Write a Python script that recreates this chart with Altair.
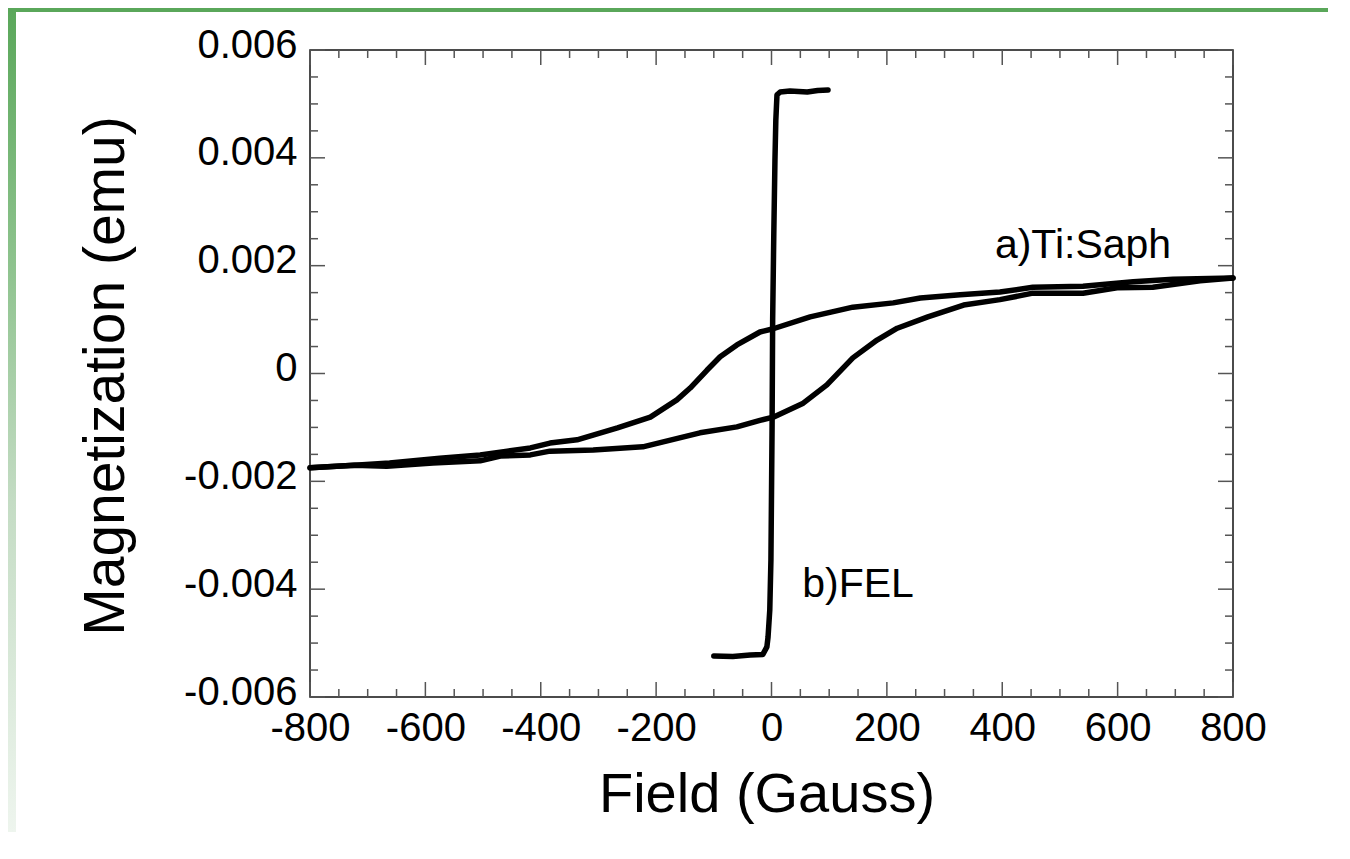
import altair as alt
import pandas as pd

# ---------------- data ----------------
# a) Ti:Saph loop, upper branch (field swept down)
up_field = [-800, -723, -662, -575, -505, -458, -418, -384, -337, -267, -210, -164, -141,
            -112, -89, -60, -20, 3, 67, 141, 211, 258, 327, 396, 453, 540, 627, 696, 800]
up_mag = [-0.00175, -0.00170, -0.00166, -0.00157, -0.00151, -0.00144, -0.00138, -0.00129,
          -0.00123, -0.00101, -0.00081, -0.00049, -0.00027, 0.00006, 0.00031, 0.00053,
          0.00077, 0.00083, 0.00105, 0.00123, 0.00131, 0.00140, 0.00146, 0.00151,
          0.00160, 0.00162, 0.00170, 0.00175, 0.00177]

# a) Ti:Saph loop, lower branch (field swept up)
low_field = [-800, -723, -667, -587, -505, -470, -418, -384, -309, -223, -124, -60, -20, 3,
             55, 96, 141, 183, 218, 271, 333, 396, 453, 540, 599, 661, 743, 800]
low_mag = [-0.00175, -0.00170, -0.00172, -0.00166, -0.00162, -0.00153, -0.00151, -0.00144,
           -0.00142, -0.00136, -0.00110, -0.00099, -0.00087, -0.00081, -0.00055, -0.00021,
           0.00029, 0.00062, 0.00084, 0.00105, 0.00127, 0.00137, 0.00149, 0.00149,
           0.00159, 0.00160, 0.00172, 0.00177]

# b) FEL loop
fel_field = [-100, -67, -37, -15, -8, -6, -3, -1, 1, 2, 4, 6, 7.5, 9.5, 15, 32, 62, 80, 98]
fel_mag = [-0.00524, -0.00525, -0.00522, -0.00521, -0.00507, -0.00489, -0.00439, -0.00346,
           -0.00100, 0.00100, 0.00260, 0.00396, 0.00470, 0.00517, 0.00522, 0.00524,
           0.00522, 0.00525, 0.00526]

# annotations
note_text = ["a)Ti:Saph", "b)FEL"]
note_field = [540, 150]
note_mag = [0.00214, -0.00415]

# axis ticks
x_major = [-800, -600, -400, -200, 0, 200, 400, 600, 800]
x_minor = [v for v in range(-750, 800, 50) if v % 200 != 0]
y_major = [-0.006, -0.004, -0.002, 0.0, 0.002, 0.004, 0.006]
y_minor = [round(-0.0055 + 0.0005 * i, 4) for i in range(23) if (i + 1) % 4 != 0]

# ---------------- build tables ----------------
rows = []
for name, xs_, ys_ in [("up", up_field, up_mag), ("low", low_field, low_mag), ("fel", fel_field, fel_mag)]:
    for i, (a, b) in enumerate(zip(xs_, ys_)):
        rows.append({"field": a, "mag": b, "series": name, "order": i})
df = pd.DataFrame(rows)
notes = pd.DataFrame({"label": note_text, "field": note_field, "mag": note_mag})

W, H = 923, 647
PL, PT, PR, PB = 302, 42, 95, 135
FONT = "Liberation Sans"

xs = alt.Scale(domain=[-800, 800], nice=False, zero=False)
ys = alt.Scale(domain=[-0.006, 0.006], nice=False, zero=False)

x_axis = alt.Axis(values=x_major, ticks=False, tickSize=0, domain=False, grid=False,
                  labelFont=FONT, labelFontSize=40, labelColor="black", labelPadding=11,
                  labelFlush=False, labelOverlap=False,
                  labelExpr="(datum.value < 0 ? '-' : '') + format(abs(datum.value), 'd')",
                  title="Field (Gauss)", titleFont=FONT, titleFontSize=56,
                  titleFontWeight="normal", titleColor="black",
                  titleX=W / 2 - 5, titleY=114, titleAlign="center", titleBaseline="alphabetic")
y_axis = alt.Axis(values=y_major, ticks=False, tickSize=0, domain=False, grid=False,
                  labelFont=FONT, labelFontSize=40, labelColor="black", labelPadding=13,
                  labelOffset=-5,
                  labelFlush=False, labelOverlap=False,
                  labelExpr="datum.value == 0 ? '0' : (datum.value < 0 ? '-' : '') + format(abs(datum.value), '.3f')",
                  title="Magnetization (emu)", titleFont=FONT, titleFontSize=57,
                  titleFontWeight="normal", titleColor="black",
                  titleX=-187, titleY=H / 2 + 2, titleAngle=270, titleAlign="center",
                  titleBaseline="alphabetic")

X = lambda: alt.X("field:Q", scale=xs, axis=x_axis)
Y = lambda: alt.Y("mag:Q", scale=ys, axis=y_axis)

layers = []

lines = alt.Chart(df).mark_line(color="black", strokeWidth=5.5, strokeJoin="round",
                                strokeCap="round").encode(
    x=X(), y=Y(), detail="series:N", order="order:Q",
)

# decorative green page border
dummy = pd.DataFrame({"k": [0]})
green_grad = alt.Gradient(gradient="linear", x1=0, x2=0, y1=0, y2=1,
                          stops=[alt.GradientStop(color="#5aa75a", offset=0),
                                 alt.GradientStop(color="#8cc28c", offset=0.3),
                                 alt.GradientStop(color="#c4dcc4", offset=0.6),
                                 alt.GradientStop(color="#eef5ee", offset=1)])
layers.append(alt.Chart(dummy).mark_rect(fill=green_grad).encode(
    x=alt.value(-PL), x2=alt.value(-PL + 8), y=alt.value(-PT), y2=alt.value(H + PB)))
layers.append(alt.Chart(dummy).mark_rect(fill="#5aa75a").encode(
    x=alt.value(-PL), x2=alt.value(W + PR), y=alt.value(-PT), y2=alt.value(-PT + 4)))

# inside ticks on all four sides
TICK_COLOR = "#555555"
def xticks(vals, length):
    d = pd.DataFrame({"field": vals})
    bottom = alt.Chart(d).mark_rule(color=TICK_COLOR, strokeWidth=1.5).encode(
        x=X(), y=alt.value(H), y2=alt.value(H - length))
    top = alt.Chart(d).mark_rule(color=TICK_COLOR, strokeWidth=1.5).encode(
        x=X(), y=alt.value(0), y2=alt.value(length))
    return [bottom, top]

def yticks(vals, length):
    d = pd.DataFrame({"mag": vals})
    left = alt.Chart(d).mark_rule(color=TICK_COLOR, strokeWidth=1.5).encode(
        y=Y(), x=alt.value(0), x2=alt.value(length))
    right = alt.Chart(d).mark_rule(color=TICK_COLOR, strokeWidth=1.5).encode(
        y=Y(), x=alt.value(W), x2=alt.value(W - length))
    return [left, right]

layers += xticks(x_major, 15) + xticks(x_minor, 8) + yticks(y_major, 15) + yticks(y_minor, 8)
layers.append(lines)

texts = alt.Chart(notes).mark_text(font=FONT, fontSize=41, color="black", align="center",
                                   baseline="alphabetic").encode(
    x=X(), y=Y(), text="label:N",
)
layers.append(texts)

chart = alt.layer(*layers).properties(
    width=W, height=H,
    autosize=alt.AutoSizeParams(type="none"),
    padding={"left": PL, "top": PT, "right": PR, "bottom": PB},
    background="white",
).configure_view(stroke="#111111", strokeWidth=1.5)

chart.save("out.html", embed_options={"renderer": "svg", "actions": False})
